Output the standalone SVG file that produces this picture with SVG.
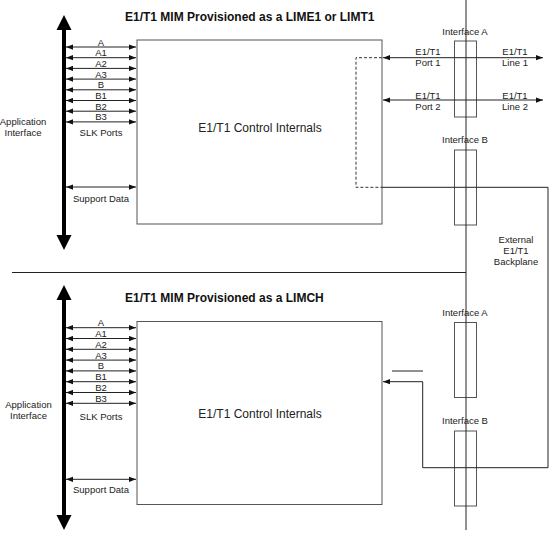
<svg xmlns="http://www.w3.org/2000/svg" width="549" height="543" viewBox="0 0 549 543">
<style>
text{font-family:"Liberation Sans",Arial,sans-serif;fill:#222;font-size:9.5px;text-anchor:middle}
.title{font-size:12px;font-weight:bold;text-anchor:start;fill:#111}
.big{font-size:12px}
.box{fill:none;stroke:#555;stroke-width:1}
.ln{fill:none;stroke:#222;stroke-width:1}
.dash{fill:none;stroke:#333;stroke-width:1;stroke-dasharray:3,2}
.arr{stroke:#222;stroke-width:1;marker-start:url(#ah);marker-end:url(#ah)}
.bus{stroke:#000;stroke-width:4}
</style>
<defs>
<marker id="ah" viewBox="0 0 8 6" refX="8" refY="3" markerUnits="userSpaceOnUse" markerWidth="7" markerHeight="6" orient="auto-start-reverse">
<path d="M0,0 L8,3 L0,6 z" fill="#111"/>
</marker>
</defs>
<rect width="549" height="543" fill="#fff"/>

<g id="top-section">
<text class="title" x="125" y="21">E1/T1 MIM Provisioned as a LIME1 or LIMT1</text>
<g id="top-bus">
<line class="bus" x1="64" y1="28" x2="64" y2="237"/>
<polygon points="64,15 56.5,30 71.5,30" fill="#000"/>
<polygon points="64,250 56.5,235 71.5,235" fill="#000"/>
<text x="23" y="125.4">Application</text>
<text x="23" y="136.4">Interface</text>
</g>
<g id="top-control">
<rect class="box" x="137" y="40" width="245" height="184"/>
<text class="big" x="260" y="132.3">E1/T1 Control Internals</text>
</g>
<g id="top-ifA">
<rect class="box" x="454.5" y="41" width="22" height="76"/>
<text x="465" y="35.4">Interface A</text>
</g>
<g id="top-ifB">
<rect class="box" x="454.5" y="150" width="22" height="75"/>
<text x="465" y="143.4">Interface B</text>
</g>
<g id="top-labels">
<text x="101" y="45.5">A</text>
<text x="101" y="56.2">A1</text>
<text x="101" y="66.9">A2</text>
<text x="101" y="77.6">A3</text>
<text x="101" y="88.3">B</text>
<text x="101" y="99">B1</text>
<text x="101" y="109.7">B2</text>
<text x="101" y="120.4">B3</text>
<text x="101" y="136.4">SLK Ports</text>
<text x="101" y="202.4">Support Data</text>
<text x="428" y="55.4">E1/T1</text>
<text x="428" y="66.4">Port 1</text>
<text x="428" y="99.4">E1/T1</text>
<text x="428" y="110.4">Port 2</text>
<text x="515" y="55.4">E1/T1</text>
<text x="515" y="66.4">Line 1</text>
<text x="515" y="99.4">E1/T1</text>
<text x="515" y="110.4">Line 2</text>
<text x="516" y="243.4">External</text>
<text x="516" y="254.4">E1/T1</text>
<text x="516" y="265.4">Backplane</text>
</g>
</g>

<g id="bottom-section">
<text class="title" x="125" y="302">E1/T1 MIM Provisioned as a LIMCH</text>
<g id="bottom-bus">
<line class="bus" x1="64" y1="298" x2="64" y2="517"/>
<polygon points="64,285 56.5,300 71.5,300" fill="#000"/>
<polygon points="64,530 56.5,515 71.5,515" fill="#000"/>
<text x="28.5" y="408.4">Application</text>
<text x="28.5" y="419.4">Interface</text>
</g>
<g id="bottom-control">
<rect class="box" x="137" y="321.5" width="245" height="183"/>
<text class="big" x="260" y="418.3">E1/T1 Control Internals</text>
</g>
<g id="bottom-ifA">
<rect class="box" x="454.5" y="322.5" width="22" height="75"/>
<text x="465" y="316">Interface A</text>
</g>
<g id="bottom-ifB">
<rect class="box" x="454.5" y="431" width="22" height="75"/>
<text x="465" y="424">Interface B</text>
</g>
<g id="bottom-labels">
<text x="101" y="326.2">A</text>
<text x="101" y="337">A1</text>
<text x="101" y="347.8">A2</text>
<text x="101" y="358.6">A3</text>
<text x="101" y="369.4">B</text>
<text x="101" y="380.2">B1</text>
<text x="101" y="391">B2</text>
<text x="101" y="401.8">B3</text>
<text x="101" y="420">SLK Ports</text>
<text x="101" y="493.4">Support Data</text>
</g>
</g>

<g id="connectors">
<line class="ln" x1="466" y1="0" x2="466" y2="530"/>
<line class="ln" x1="12" y1="272.5" x2="466" y2="272.5"/>
<line class="arr" x1="66" y1="47" x2="136" y2="47"/>
<line class="arr" x1="66" y1="57.7" x2="136" y2="57.7"/>
<line class="arr" x1="66" y1="68.4" x2="136" y2="68.4"/>
<line class="arr" x1="66" y1="79.1" x2="136" y2="79.1"/>
<line class="arr" x1="66" y1="89.8" x2="136" y2="89.8"/>
<line class="arr" x1="66" y1="100.5" x2="136" y2="100.5"/>
<line class="arr" x1="66" y1="111.2" x2="136" y2="111.2"/>
<line class="arr" x1="66" y1="121.9" x2="136" y2="121.9"/>
<line class="arr" x1="66" y1="187" x2="136" y2="187"/>
<line class="arr" x1="383" y1="57.7" x2="543" y2="57.7"/>
<line class="arr" x1="383" y1="100" x2="543" y2="100"/>
<path class="dash" d="M382,57.7 H356 V187.3 H382"/>
<path class="ln" d="M382,187.3 H548 V467.7 H422.7 V381.7 H383" style="marker-end:url(#ah)"/>
<line class="ln" x1="392" y1="371" x2="423" y2="371"/>
<line class="arr" x1="66" y1="327.7" x2="136" y2="327.7"/>
<line class="arr" x1="66" y1="338.5" x2="136" y2="338.5"/>
<line class="arr" x1="66" y1="349.3" x2="136" y2="349.3"/>
<line class="arr" x1="66" y1="360.1" x2="136" y2="360.1"/>
<line class="arr" x1="66" y1="370.9" x2="136" y2="370.9"/>
<line class="arr" x1="66" y1="381.7" x2="136" y2="381.7"/>
<line class="arr" x1="66" y1="392.5" x2="136" y2="392.5"/>
<line class="arr" x1="66" y1="403.3" x2="136" y2="403.3"/>
<line class="arr" x1="66" y1="479.3" x2="136" y2="479.3"/>
</g>
</svg>
